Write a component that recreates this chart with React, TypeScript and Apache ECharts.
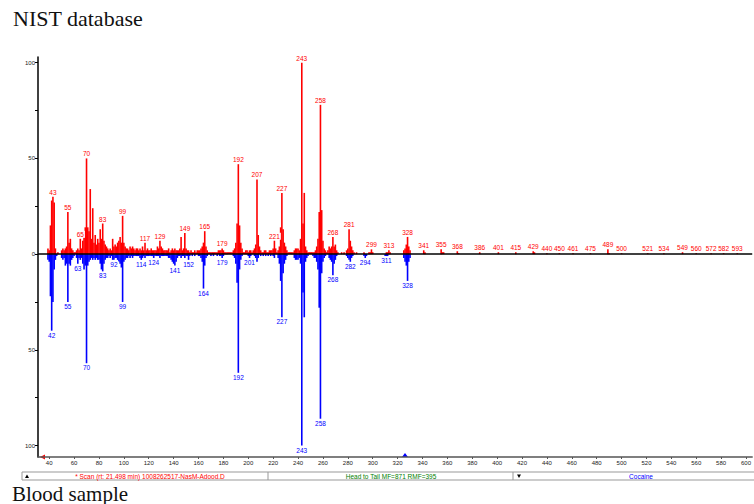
import React, { useEffect, useRef } from "react";
import * as echarts from "echarts";

const title = "NIST database";
const footer = "Blood sample";
const scanText = "* Scan (rt: 21.498 min) 1008262517-NasM-Adood.D";
const headText = "Head to Tail MF=871 RMF=395";
const libText = "Cocaine";

const xTicks = [40, 60, 80, 100, 120, 140, 160, 180, 200, 220, 240, 260, 280, 300, 320, 340, 360, 380, 400, 420, 440, 460, 480, 500, 520, 540, 560, 580, 600];
const yTickLabels = [-100, -50, 0, 50, 100];
const yTicks = [-100, -75, -50, -25, 0, 25, 50, 75, 100];

// sample spectrum (top, red): [m/z, relative abundance]
const samplePeaks: [number, number][] = [
  [39, 3], [40, 2], [41, 15], [42, 28], [43, 30], [44, 27], [45, 3], [47, 1], [50, 2], [51, 3], [52, 2], [53, 3], [54, 4],
  [55, 22], [56, 6], [57, 8], [58, 3], [59, 2], [60, 1], [61, 1], [62, 2], [63, 3], [64, 2], [65, 8], [66, 3], [67, 7],
  [68, 12], [69, 14], [70, 50], [71, 14], [72, 12], [73, 34], [74, 8], [75, 24], [76, 6], [77, 10], [78, 5], [79, 8],
  [80, 6], [81, 13], [82, 8], [83, 16], [84, 7], [85, 5], [86, 4], [87, 3], [88, 2], [89, 3], [90, 2], [91, 8], [92, 4],
  [93, 5], [94, 4], [95, 6], [96, 7], [97, 9], [98, 6], [99, 20], [100, 6], [101, 4], [102, 3], [103, 3], [104, 2],
  [105, 4], [106, 3], [107, 4], [108, 3], [109, 2], [110, 3], [111, 3], [112, 2], [113, 3], [114, 2], [115, 4], [116, 2],
  [117, 6], [118, 2], [119, 3], [120, 2], [121, 2], [122, 3], [123, 2], [124, 2], [125, 2], [126, 2], [127, 4], [128, 3],
  [129, 7], [130, 4], [131, 3], [132, 2], [133, 2], [134, 2], [135, 2], [136, 3], [137, 1], [138, 2], [139, 3], [140, 2],
  [141, 3], [142, 2], [143, 2], [144, 2], [145, 3], [146, 9], [147, 2], [148, 3], [149, 11], [150, 3], [151, 2], [152, 2],
  [153, 1], [154, 2], [155, 1], [156, 1], [157, 2], [158, 1], [159, 2], [160, 2], [161, 2], [162, 3], [163, 4], [164, 6],
  [165, 12], [166, 4], [167, 2], [168, 1], [169, 1], [170, 1], [171, 1], [172, 1], [173, 1], [174, 1], [175, 1], [176, 2],
  [177, 2], [178, 2], [179, 3], [180, 2], [181, 1], [182, 1], [183, 1], [184, 1], [185, 1], [186, 1], [187, 1], [188, 2],
  [189, 3], [190, 6], [191, 16], [192, 47], [193, 15], [194, 6], [195, 3], [196, 1], [197, 1], [198, 2], [199, 2], [200, 1],
  [201, 2], [202, 2], [203, 1], [204, 2], [205, 3], [206, 5], [207, 39], [208, 10], [209, 4], [210, 2], [211, 1], [212, 1],
  [213, 2], [214, 2], [215, 1], [216, 1], [217, 2], [218, 2], [219, 2], [220, 3], [221, 7], [222, 3], [223, 1], [224, 2],
  [225, 4], [226, 14], [227, 32], [228, 13], [229, 6], [230, 4], [231, 2], [232, 1], [233, 1], [234, 1], [235, 1], [236, 1],
  [237, 2], [238, 3], [239, 3], [240, 3], [241, 2], [242, 8], [243, 100], [244, 16], [245, 32], [246, 4], [247, 2], [248, 1],
  [249, 1], [250, 1], [251, 1], [252, 1], [253, 1], [254, 2], [255, 4], [256, 8], [257, 22], [258, 78], [259, 23], [260, 7],
  [261, 3], [262, 2], [263, 1], [264, 2], [265, 4], [266, 3], [267, 4], [268, 9], [269, 4], [270, 5], [271, 2], [272, 1],
  [275, 1], [277, 1], [279, 2], [280, 3], [281, 13], [282, 7], [283, 4], [284, 2], [285, 1], [287, 1], [293, 1], [297, 1],
  [298, 1], [299, 2.5], [300, 1], [311, 1], [312, 1], [313, 2], [314, 1], [325, 2], [326, 3], [327, 5], [328, 9], [329, 4],
  [330, 2], [341, 2], [342, 1], [355, 2.5], [356, 1], [357, 1], [368, 1.5], [369, 0.5], [386, 1], [401, 1], [415, 1],
  [429, 1.5], [430, 1], [440, 0.5], [450, 0.5], [461, 0.5], [475, 0.5], [489, 2.5], [490, 0.5], [500, 0.5], [521, 0.5],
  [534, 0.5], [549, 1], [560, 0.5], [572, 0.5], [582, 0.5], [593, 0.5],
];
const sampleLabeled = [43, 55, 65, 70, 83, 99, 117, 129, 149, 165, 179, 192, 207, 221, 227, 243, 258, 268, 281, 299, 313, 328, 341, 355, 368, 386, 401, 415, 429, 440, 450, 461, 475, 489, 500, 521, 534, 549, 560, 572, 582, 593];

// library spectrum (bottom, blue): [m/z, -relative abundance]
const libraryPeaks: [number, number][] = [
  [39, -3], [40, -4], [41, -22], [42, -40], [43, -25], [44, -8], [45, -3], [46, -1], [50, -2], [51, -3], [52, -2], [53, -6],
  [54, -5], [55, -25], [56, -5], [57, -6], [58, -3], [59, -2], [60, -1], [62, -2], [63, -5], [64, -2], [65, -3], [66, -2],
  [67, -5], [68, -8], [69, -6], [70, -57], [71, -6], [72, -4], [73, -3], [74, -2], [75, -3], [76, -2], [77, -3], [78, -2],
  [79, -3], [80, -3], [81, -5], [82, -8], [83, -9], [84, -5], [85, -3], [86, -2], [87, -2], [88, -1], [89, -2], [90, -1],
  [91, -3], [92, -3], [93, -2], [94, -2], [95, -3], [96, -4], [97, -5], [98, -7], [99, -25], [100, -4], [101, -3], [102, -2],
  [103, -2], [104, -1], [105, -2], [106, -1], [107, -2], [108, -1], [109, -1], [110, -1], [111, -1], [112, -1], [113, -2],
  [114, -3], [115, -2], [116, -1], [117, -2], [118, -1], [119, -1], [120, -1], [121, -1], [122, -1], [123, -1], [124, -2],
  [125, -1], [126, -1], [127, -1], [128, -1], [129, -2], [130, -1], [131, -1], [132, -1], [133, -1], [134, -1], [135, -1],
  [136, -2], [137, -2], [138, -3], [139, -4], [140, -5], [141, -6], [142, -4], [143, -2], [144, -1], [145, -1], [146, -2],
  [147, -1], [148, -1], [149, -2], [150, -1], [151, -1], [152, -3], [153, -1], [155, -1], [157, -1], [160, -1], [161, -1],
  [162, -2], [163, -4], [164, -18], [165, -6], [166, -2], [167, -1], [170, -1], [172, -1], [175, -1], [177, -1], [178, -1],
  [179, -2], [180, -1], [188, -1], [189, -2], [190, -5], [191, -15], [192, -62], [193, -8], [194, -3], [195, -1], [200, -1],
  [201, -2], [202, -1], [205, -1], [206, -2], [207, -4], [208, -2], [210, -1], [212, -1], [214, -1], [216, -1], [218, -1],
  [220, -1], [221, -2], [224, -2], [225, -5], [226, -14], [227, -33], [228, -10], [229, -5], [230, -3], [231, -1], [237, -2],
  [238, -3], [239, -3], [240, -3], [241, -2], [242, -5], [243, -100], [244, -20], [245, -33], [246, -4], [247, -2], [248, -1],
  [252, -1], [253, -2], [254, -2], [255, -4], [256, -8], [257, -28], [258, -86], [259, -10], [260, -4], [261, -2], [262, -1],
  [265, -2], [266, -3], [267, -4], [268, -11], [269, -5], [270, -3], [271, -1], [279, -1], [280, -2], [281, -3], [282, -4],
  [283, -2], [284, -1], [293, -1], [294, -2], [295, -1], [310, -1], [311, -1], [312, -1], [325, -2], [326, -4], [327, -6],
  [328, -14], [329, -4], [330, -2],
];
const libraryLabeled = [42, 55, 63, 70, 83, 92, 99, 114, 124, 141, 152, 164, 179, 192, 201, 227, 243, 258, 268, 282, 294, 311, 328];

const RED = "#ff0000";
const BLUE = "#0000ff";

export default function App() {
  const ref = useRef<HTMLDivElement>(null);
  useEffect(() => {
    if (!ref.current) return;
    const chart = echarts.init(ref.current, null, { renderer: "svg" });
    const mk = (peaks: [number, number][], labeled: number[]) =>
      peaks.map(([m, v]) => (labeled.includes(m) ? { value: [m, v], label: { show: true } } : { value: [m, v] }));
    const labelBase = {
      show: false,
      fontSize: 6.5,
      fontFamily: "Liberation Sans, Arial, sans-serif",
      backgroundColor: "#ffffff",
      padding: [0, 1, 0, 1],
      distance: 1,
      formatter: (p: any) => String(p.value[0]),
    };
    chart.setOption({
      animation: false,
      backgroundColor: "#ffffff",
      grid: { left: 38, right: 0, top: 57, bottom: 47, containLabel: false },
      xAxis: {
        type: "value",
        min: 31,
        max: 605,
        axisLine: { show: true, onZero: false, lineStyle: { color: "#555", width: 1.5 } },
        axisTick: { show: true, length: 2, customValues: xTicks, lineStyle: { color: "#555" } },
        axisLabel: {
          customValues: xTicks,
          fontSize: 6,
          color: "#222",
          margin: 3,
          fontFamily: "Liberation Sans, Arial, sans-serif",
        },
        splitLine: { show: false },
      },
      yAxis: {
        type: "value",
        min: -106,
        max: 103,
        axisLine: { show: true, onZero: false, lineStyle: { color: "#000", width: 1.5 } },
        axisTick: { show: true, length: 3, customValues: yTicks, lineStyle: { color: "#000" } },
        axisLabel: {
          customValues: yTickLabels,
          fontSize: 6,
          color: "#222",
          margin: 3,
          fontFamily: "Liberation Sans, Arial, sans-serif",
          formatter: (v: number) => String(Math.abs(v)),
        },
        splitLine: { show: false },
      },
      series: [
        {
          type: "bar",
          name: "sample",
          barWidth: 1.6,
          barGap: "-100%",
          itemStyle: { color: RED },
          label: { ...labelBase, position: "top", color: RED },
          data: mk(samplePeaks, sampleLabeled),
          markLine: {
            silent: true,
            symbol: "none",
            label: { show: false },
            lineStyle: { color: "#000", width: 1.5, type: "solid" },
            data: [{ yAxis: 0 }],
            z: 10,
          },
        },
        {
          type: "bar",
          name: "library",
          barWidth: 1.6,
          barGap: "-100%",
          itemStyle: { color: BLUE },
          label: { ...labelBase, position: "bottom", color: BLUE },
          data: mk(libraryPeaks, libraryLabeled),
        },
      ],
      graphic: [
        {
          type: "text",
          left: 13,
          top: 7,
          style: { text: title, font: "22px 'Liberation Serif', 'Times New Roman', serif", fill: "#111" },
        },
        {
          type: "text",
          left: 12,
          top: 483,
          style: { text: footer, font: "21px 'Liberation Serif', 'Times New Roman', serif", fill: "#111" },
        },
        {
          type: "rect",
          shape: { x: 22, y: 472, width: 740, height: 8 },
          style: { fill: "#ffffff", stroke: "#999", lineWidth: 1 },
        },
        { type: "line", shape: { x1: 268, y1: 472, x2: 268, y2: 480 }, style: { stroke: "#999", lineWidth: 1 } },
        { type: "line", shape: { x1: 513, y1: 472, x2: 513, y2: 480 }, style: { stroke: "#999", lineWidth: 1 } },
        { type: "polygon", shape: { points: [[25, 478], [29, 478], [27, 474.5]] }, style: { fill: "#000" } },
        { type: "polygon", shape: { points: [[517, 474.5], [521, 474.5], [519, 478]] }, style: { fill: "#000" } },
        {
          type: "text",
          x: 150,
          y: 476,
          style: { text: scanText, font: "6.5px 'Liberation Sans', Arial, sans-serif", fill: RED, align: "center", verticalAlign: "middle" },
        },
        {
          type: "text",
          x: 391,
          y: 476,
          style: { text: headText, font: "6.5px 'Liberation Sans', Arial, sans-serif", fill: "#008000", align: "center", verticalAlign: "middle" },
        },
        {
          type: "text",
          x: 641,
          y: 476,
          style: { text: libText, font: "6.5px 'Liberation Sans', Arial, sans-serif", fill: BLUE, align: "center", verticalAlign: "middle" },
        },
        { type: "polygon", shape: { points: [[40, 457], [45, 454.5], [45, 459.5]] }, style: { fill: RED } },
        { type: "polygon", shape: { points: [[402, 457], [408, 457], [405, 453]] }, style: { fill: BLUE } },
      ],
    });
    return () => chart.dispose();
  }, []);
  return <div ref={ref} style={{ position: "fixed", left: 0, top: 0, width: 754, height: 504, background: "#fff" }} />;
}
